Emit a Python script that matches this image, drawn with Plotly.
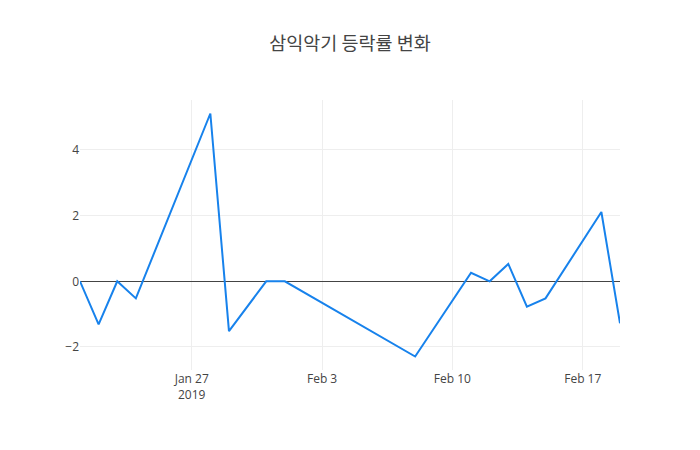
import plotly.graph_objects as go

dates = ["2019-01-21", "2019-01-22", "2019-01-23", "2019-01-24", "2019-01-28",
         "2019-01-29", "2019-01-31", "2019-02-01", "2019-02-08", "2019-02-11",
         "2019-02-12", "2019-02-13", "2019-02-14", "2019-02-15", "2019-02-18",
         "2019-02-19"]
changes = [0.0, -1.31, 0.0, -0.52, 5.11,
           -1.52, 0.0, 0.0, -2.29, 0.26,
           0.0, 0.53, -0.77, -0.52, 2.11,
           -1.28]

fig = go.Figure()
fig.add_trace(go.Scatter(x=dates, y=changes, mode="lines",
                         line=dict(color="#1782ec", width=2)))
fig.update_layout(
    template="none",
    width=700, height=450,
    title=dict(text="삼익악기 등락률 변화", x=0.5, xanchor="center",
               font=dict(size=18.5, color="#444",
                         family="Noto Sans CJK KR, Open Sans, sans-serif")),
    font=dict(family="Open Sans, Noto Sans CJK KR, sans-serif", color="#444"),
    margin=dict(l=80, r=80, t=100, b=80),
    xaxis=dict(gridcolor="#eee"),
    yaxis=dict(gridcolor="#eee", zerolinecolor="#444", zeroline=True),
    showlegend=False,
)
fig.write_html("out.html")
